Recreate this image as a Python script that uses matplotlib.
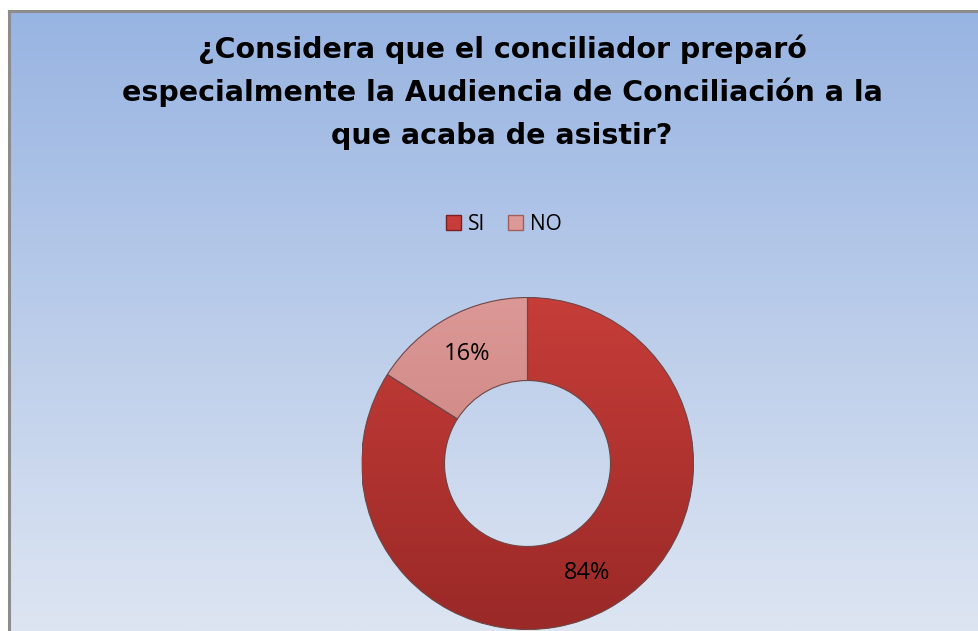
import numpy as np
import matplotlib.pyplot as plt
from matplotlib.colors import LinearSegmentedColormap
from matplotlib.patches import Patch, Wedge

# datos
categorias = ['SI', 'NO']
valores = [84, 16]
etiquetas = ['84%', '16%']
titulo = ['¿Considera que el conciliador preparó',
          'especialmente la Audiencia de Conciliación a la',
          'que acaba de asistir?']

col_top = ['#c63d39', '#dc9896']   # color claro de cada sector
col_bot = ['#9a2927', '#c27b78']   # color oscuro de cada sector

W, H = 979, 631
fig = plt.figure(figsize=(W / 100, H / 100), dpi=100)
fig.patch.set_facecolor('white')

# fondo con degradado azul
bg = fig.add_axes([9 / W, 0, 1 - 9 / W, 1 - 11 / H])
grad = np.linspace(0, 1, 256).reshape(-1, 1)
cm_bg = LinearSegmentedColormap.from_list('bg', ['#98b4e2', '#dde5f2'])
bg.imshow(grad, aspect='auto', cmap=cm_bg, extent=(0, 1, 0, 1), origin='upper')
bg.set_xlim(0, 1)
bg.set_ylim(0, 1)
bg.axis('off')
# borde gris
fig.add_artist(plt.Line2D([9 / W, 1], [1 - 11 / H, 1 - 11 / H], color='#8c8c8c', lw=2.2))
fig.add_artist(plt.Line2D([9 / W, 9 / W], [0, 1 - 11 / H], color='#8c8c8c', lw=2.2))

# titulo
for i, linea in enumerate(titulo):
    fig.text(502 / W, 1 - (49 + 43.5 * i) / H, linea, ha='center', va='center',
             fontsize=20.5, fontweight='bold', color='black', family='DejaVu Sans')

# leyenda
handles = [Patch(facecolor=col_top[0], edgecolor='#7a2020'),
           Patch(facecolor=col_top[1], edgecolor='#a06060')]
fig.legend(handles, categorias, loc='center', bbox_to_anchor=(504 / W, 1 - 224 / H),
           ncol=2, frameon=False, prop={'family': 'Open Sans', 'size': 15},
           handlelength=0.7, handleheight=0.7, handletextpad=0.35, columnspacing=1.1)

# dona
cx, cy, r = 527.5, 463.5, 166
ax = fig.add_axes([(cx - r) / W, 1 - (cy + r) / H, 2 * r / W, 2 * r / H])
wedges, _ = ax.pie(valores, startangle=90, counterclock=False, radius=1,
                   colors=col_top, wedgeprops=dict(width=0.5, linewidth=0))
for w, c1, c2 in zip(wedges, col_top, col_bot):
    cm = LinearSegmentedColormap.from_list('w', [c1, c2])
    im = ax.imshow(grad, aspect='auto', cmap=cm, extent=(-1, 1, -1, 1), origin='upper', zorder=1.5)
    im.set_clip_path(w)
    borde = Wedge(w.center, w.r, w.theta1, w.theta2, width=w.width,
                  facecolor='none', edgecolor='#6e4848', linewidth=0.8, zorder=2)
    ax.add_patch(borde)

ang = 90.0
for v, t in zip(valores, etiquetas):
    mid = ang - v * 3.6 / 2
    ang -= v * 3.6
    rr = 0.75
    ax.text(rr * np.cos(np.radians(mid)), rr * np.sin(np.radians(mid)), t,
            ha='center', va='center', fontsize=17, family='Open Sans', color='black', zorder=3)

ax.set_xlim(-1, 1)
ax.set_ylim(-1, 1)
ax.axis('off')

plt.savefig('out.png', dpi=100)
